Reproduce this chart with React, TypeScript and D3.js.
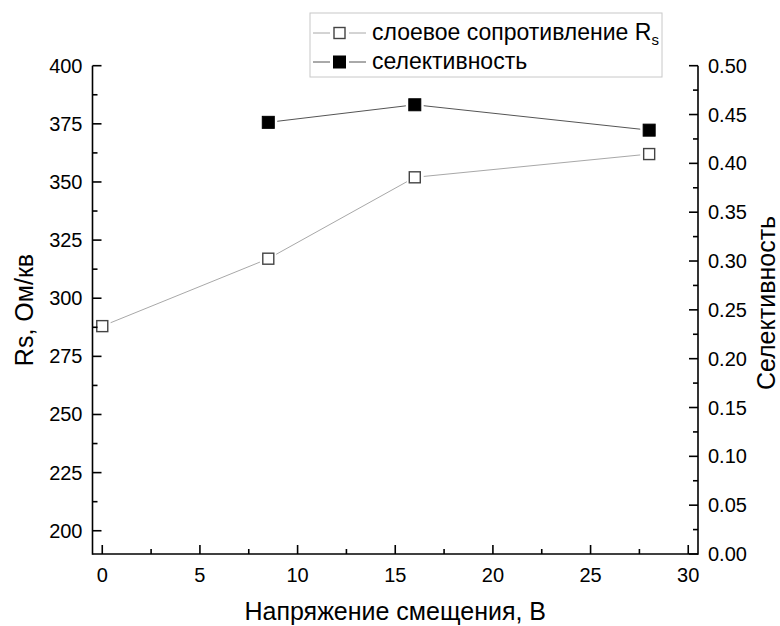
/**
 * Rs and selectivity vs bias voltage. Dual y axis, Origin-like styling:
 * ticks point inward, no top frame, lines stop short of the markers.
 */
import React, { useRef, useEffect } from 'react';
import * as d3 from 'd3';

const WIDTH = 780;
const HEIGHT = 626;
const M = { left: 92.5, right: 698, top: 65.7, bottom: 554 };
const FONT = 'Arial, "Liberation Sans", sans-serif';

// data
const voltage = [0, 8.5, 16, 28];
const rsValues = [288, 317, 352, 362];
const selVoltage = [8.5, 16, 28];
const selValues = [0.442, 0.46, 0.434];

const xTicks = [0, 5, 10, 15, 20, 25, 30];
const rsTicks = [200, 225, 250, 275, 300, 325, 350, 375, 400];
const selTicks = [0, 0.05, 0.1, 0.15, 0.2, 0.25, 0.3, 0.35, 0.4, 0.45, 0.5];

const GAP = 9;

export default function App() {
  const svgRef = useRef<SVGSVGElement>(null);

  useEffect(() => {
    if (!svgRef.current) return;
    const svg = d3.select(svgRef.current);
    svg.selectAll('*').remove();

    const x = d3.scaleLinear().domain([-0.5, 30.5]).range([M.left, M.right]);
    const yL = d3.scaleLinear().domain([190, 400]).range([M.bottom, M.top]);
    const yR = d3.scaleLinear().domain([0, 0.5]).range([M.bottom, M.top]);

    // segments between markers, shortened by GAP at each end
    const drawGapLine = (pts: [number, number][], color: string) => {
      for (let i = 0; i < pts.length - 1; i++) {
        const [x1, y1] = pts[i];
        const [x2, y2] = pts[i + 1];
        const len = Math.hypot(x2 - x1, y2 - y1);
        const ux = (x2 - x1) / len;
        const uy = (y2 - y1) / len;
        svg.append('line')
          .attr('x1', x1 + ux * GAP).attr('y1', y1 + uy * GAP)
          .attr('x2', x2 - ux * GAP).attr('y2', y2 - uy * GAP)
          .attr('stroke', color).attr('stroke-width', 1);
      }
    };

    const rsPts = voltage.map((v, i) => [x(v), yL(rsValues[i])] as [number, number]);
    const selPts = selVoltage.map((v, i) => [x(v), yR(selValues[i])] as [number, number]);
    drawGapLine(rsPts, '#a8a8a8');
    drawGapLine(selPts, '#555');

    const square = (cx: number, cy: number, filled: boolean) => {
      const s = filled ? 12 : 11;
      svg.append('rect')
        .attr('x', cx - s / 2).attr('y', cy - s / 2)
        .attr('width', s).attr('height', s)
        .attr('fill', filled ? '#000' : '#fff')
        .attr('stroke', filled ? '#000' : '#444')
        .attr('stroke-width', filled ? 1 : 1.4);
    };
    rsPts.forEach(([cx, cy]) => square(cx, cy, false));
    selPts.forEach(([cx, cy]) => square(cx, cy, true));

    // axes
    const axis = svg.append('g').attr('stroke', '#000').attr('stroke-width', 1.6);
    axis.append('line').attr('x1', M.left).attr('x2', M.left).attr('y1', M.top).attr('y2', M.bottom + 0.8);
    axis.append('line').attr('x1', M.right).attr('x2', M.right).attr('y1', M.top).attr('y2', M.bottom + 0.8);
    axis.append('line').attr('x1', M.left).attr('x2', M.right).attr('y1', M.bottom).attr('y2', M.bottom);

    const label = (tx: number, ty: number, text: string, anchor: string) =>
      svg.append('text')
        .attr('x', tx).attr('y', ty)
        .attr('text-anchor', anchor)
        .attr('dominant-baseline', 'central')
        .attr('font-family', FONT).attr('font-size', 20).attr('fill', '#000')
        .text(text);

    // x ticks (inward = up)
    xTicks.forEach((v) => {
      axis.append('line').attr('x1', x(v)).attr('x2', x(v)).attr('y1', M.bottom).attr('y2', M.bottom - 9);
      label(x(v), M.bottom + 21, String(v), 'middle');
    });
    for (let v = 2.5; v < 30; v += 5) {
      axis.append('line').attr('x1', x(v)).attr('x2', x(v)).attr('y1', M.bottom).attr('y2', M.bottom - 5);
    }

    // left ticks
    rsTicks.forEach((v) => {
      axis.append('line').attr('x1', M.left).attr('x2', M.left + 9).attr('y1', yL(v)).attr('y2', yL(v));
      label(M.left - 10, yL(v), String(v), 'end');
    });
    for (let v = 212.5; v < 400; v += 25) {
      axis.append('line').attr('x1', M.left).attr('x2', M.left + 5).attr('y1', yL(v)).attr('y2', yL(v));
    }

    // right ticks
    selTicks.forEach((v) => {
      axis.append('line').attr('x1', M.right).attr('x2', M.right - 9).attr('y1', yR(v)).attr('y2', yR(v));
      label(M.right + 10, yR(v), v.toFixed(2), 'start');
    });
    for (let v = 0.025; v < 0.5; v += 0.05) {
      axis.append('line').attr('x1', M.right).attr('x2', M.right - 5).attr('y1', yR(v)).attr('y2', yR(v));
    }

    // axis titles
    svg.append('text')
      .attr('transform', `translate(33, 310) rotate(-90)`)
      .attr('text-anchor', 'middle')
      .attr('font-family', FONT).attr('font-size', 25)
      .text('Rs, Ом/кв');
    svg.append('text')
      .attr('transform', `translate(775, 303) rotate(-90)`)
      .attr('text-anchor', 'middle')
      .attr('font-family', FONT).attr('font-size', 25)
      .text('Селективность');
    svg.append('text')
      .attr('x', (M.left + M.right) / 2).attr('y', 620)
      .attr('text-anchor', 'middle')
      .attr('font-family', FONT).attr('font-size', 25)
      .text('Напряжение смещения, В');

    // legend
    const lg = svg.append('g');
    lg.append('rect')
      .attr('x', 310).attr('y', 13).attr('width', 352).attr('height', 64)
      .attr('fill', '#fff').attr('stroke', '#c8c8c8').attr('stroke-width', 1);
    const legendRow = (ly: number, filled: boolean, color: string) => {
      lg.append('line').attr('x1', 313).attr('x2', 330).attr('y1', ly).attr('y2', ly).attr('stroke', color);
      lg.append('line').attr('x1', 349).attr('x2', 366).attr('y1', ly).attr('y2', ly).attr('stroke', color);
      const s = filled ? 12 : 11;
      lg.append('rect')
        .attr('x', 339.5 - s / 2).attr('y', ly - s / 2).attr('width', s).attr('height', s)
        .attr('fill', filled ? '#000' : '#fff')
        .attr('stroke', filled ? '#000' : '#444').attr('stroke-width', filled ? 1 : 1.4);
    };
    legendRow(33, false, '#a8a8a8');
    legendRow(62, true, '#555');
    const t1 = lg.append('text')
      .attr('x', 372).attr('y', 40)
      .attr('font-family', FONT).attr('font-size', 23);
    t1.append('tspan').text('слоевое сопротивление R');
    t1.append('tspan').attr('font-size', 15).attr('dy', 5).text('s');
    lg.append('text')
      .attr('x', 372).attr('y', 69)
      .attr('font-family', FONT).attr('font-size', 23)
      .text('селективность');
  }, []);

  return (
    <div style={{ position: 'absolute', left: 0, top: 0, background: '#fff' }}>
      <svg ref={svgRef} width={WIDTH} height={HEIGHT} viewBox={`0 0 ${WIDTH} ${HEIGHT}`} />
    </div>
  );
}
